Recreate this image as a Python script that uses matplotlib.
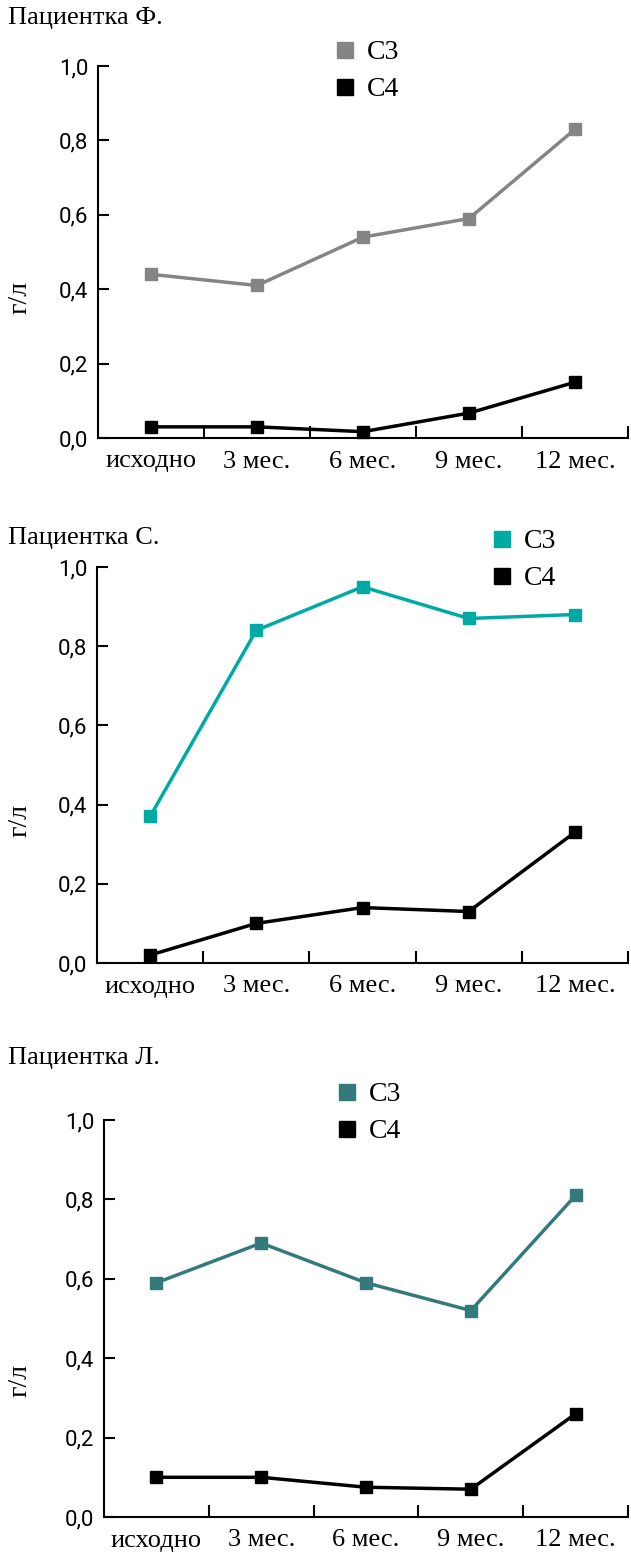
import matplotlib
matplotlib.use("Agg")
from matplotlib import pyplot as plt
from matplotlib.lines import Line2D

plt.rcParams["font.family"] = ["Liberation Serif", "DejaVu Serif"]

months = ["исходно", "3 мес.", "6 мес.", "9 мес.", "12 мес."]
yticks = [0.0, 0.2, 0.4, 0.6, 0.8, 1.0]
ytick_labels = ["0,0", "0,2", "0,4", "0,6", "0,8", "1,0"]

titles = ["Пациентка Ф.", "Пациентка С.", "Пациентка Л."]

# C3 / C4, г/л
c3_f = [0.44, 0.41, 0.54, 0.59, 0.83]
c4_f = [0.03, 0.03, 0.017, 0.067, 0.15]
c3_s = [0.37, 0.84, 0.95, 0.87, 0.88]
c4_s = [0.02, 0.10, 0.14, 0.13, 0.33]
c3_l = [0.59, 0.69, 0.59, 0.52, 0.81]
c4_l = [0.10, 0.10, 0.075, 0.07, 0.26]

c3_colors = ["#858585", "#00aaa4", "#347a7d"]

W, H = 631, 1558
fig = plt.figure(figsize=(W / 100, H / 100), dpi=100)

# пиксельная разметка панелей: левый край, y(1.0), y(0.0)
boxes = [(98, 66, 438), (97, 567, 963), (104, 1120, 1517)]
title_y = [18, 538, 1058]
legend_pos = [(345, 50), (502, 539), (347, 1092)]
ylabel_y = [297, 820, 1380]

data = [(c3_f, c4_f), (c3_s, c4_s), (c3_l, c4_l)]
x = list(range(len(months)))

for i, (c3, c4) in enumerate(data):
    left, top, bottom = boxes[i]
    ax = fig.add_axes([left / W, 1 - bottom / H, (628 - left) / W, (bottom - top) / H])

    ax.plot(x, c3, color=c3_colors[i], lw=2.5, marker="s", ms=8, clip_on=False)
    ax.plot(x, c4, color="black", lw=2.5, marker="s", ms=8, clip_on=False)

    ax.set_xlim(-0.5, 4.5)
    ax.set_ylim(0, 1.0)
    for s in ["top", "right"]:
        ax.spines[s].set_visible(False)
    for s in ["left", "bottom"]:
        ax.spines[s].set_linewidth(1.5)

    ax.set_yticks(yticks)
    ax.set_yticklabels(ytick_labels, family="Roboto", fontsize=16)
    ax.tick_params(axis="y", direction="in", length=8, width=1.5, pad=7)

    ax.set_xticks(x)
    ax.set_xticklabels(months, fontsize=19)
    ax.tick_params(axis="x", which="major", length=0, pad=9)
    ax.set_xticks([0.5, 1.5, 2.5, 3.5, 4.5], minor=True)
    ax.tick_params(axis="x", which="minor", direction="in", length=9, width=1.5)

    fig.text(8 / W, 1 - title_y[i] / H, titles[i], fontsize=19, va="center", ha="left")
    fig.text(20 / W, 1 - ylabel_y[i] / H, "г/л", fontsize=20, rotation=90, va="center", ha="center")

    lx, ly3 = legend_pos[i]
    handles = [Line2D([], [], ls="none", marker="s", ms=11, color=c3_colors[i]),
               Line2D([], [], ls="none", marker="s", ms=11, color="black")]
    fig.legend(handles, ["C3", "C4"], loc="upper left",
               bbox_to_anchor=((lx - 24) / W, 1 - (ly3 - 24) / H),
               frameon=False, fontsize=20, handlelength=0.7, handletextpad=0.45,
               labelspacing=0.42, borderpad=0)

fig.savefig("out.png", dpi=100)
